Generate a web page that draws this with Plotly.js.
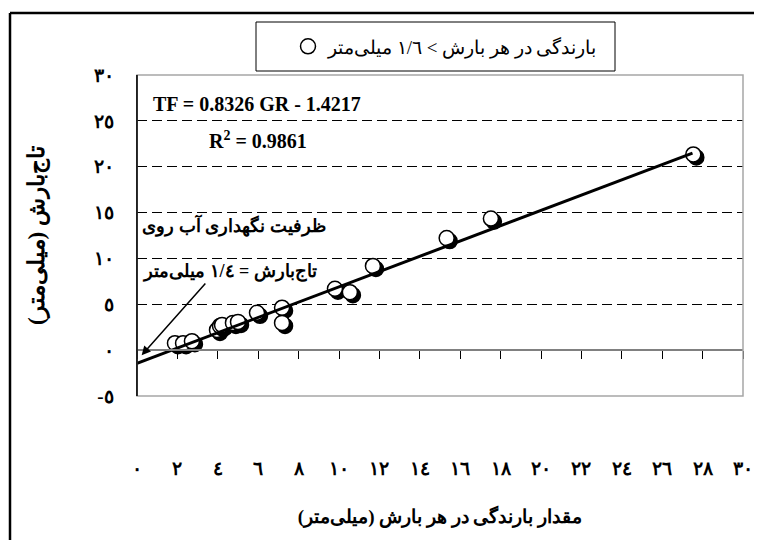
<!DOCTYPE html>
<html><head><meta charset="utf-8">
<script src="https://cdn.plot.ly/plotly-3.0.1.min.js"></script>
<style>body{margin:0;background:#fff}#chart{width:757px;height:540px}</style>
</head><body><div id="chart"></div>
<script>
// ---- data ----
const rainfall    = [1.88, 2.28, 2.72, 3.96, 4.11, 4.21, 4.75, 5.00, 5.94, 7.18, 7.18, 9.80, 10.54, 11.68, 15.33, 17.52, 27.54];
const throughfall = [0.77, 0.77, 0.99, 2.21, 2.65, 2.76, 2.98, 3.09, 4.08, 4.64, 2.98, 6.70, 6.33, 9.19, 12.22, 14.35, 21.34];
const trendX = [0, 27.5];
const trendY = [-1.42, 21.48];
const xTickVals = [0, 2, 4, 6, 8, 10, 12, 14, 16, 18, 20, 22, 24, 26, 28, 30];
const xTickText = ['٠','٢','٤','٦','٨','١٠','١٢','١٤','١٦','١٨','٢٠','٢٢','٢٤','٢٦','٢٨','٣٠'];
const yTickVals = [-5, 0, 5, 10, 15, 20, 25, 30];
const yTickText = ['-٥','٠','٥','١٠','١٥','٢٠','٢٥','٣٠'];
const legendName = 'بارندگی در هر بارش > ١/٦ میلی‌متر';
const xTitle = 'مقدار بارندگی در هر بارش (میلی‌متر)';
const yTitle = 'تاج‌بارش (میلی‌متر)';
const eqText = 'TF = 0.8326 GR - 1.4217';
const r2Text = 'R<sup>2</sup> = 0.9861';
const note1 = 'ظرفیت نگهداری آب روی';
const note2 = 'تاج‌بارش = ١/٤ میلی‌متر';
const arrowHead = [0.23, -0.55];
const arrowTail = [3.45, 7.43];

// ---- geometry ----
const W = 757, H = 540, mL = 137, mR = 14, mT = 75, mB = 85;
const pw = W - mL - mR, ph = H - mT - mB;
const yDomBottom = 0.155;
const yRange = [-5, 30];
const fx = px => (px - mL) / pw;
const fy = py => (H - mB - py) / ph;
const zeroPos = yDomBottom + (1 - yDomBottom) * (0 - yRange[0]) / (yRange[1] - yRange[0]);

const FONT = 'Liberation Serif, Times New Roman, serif';

const data = [
  {
    x: rainfall, y: throughfall, type: 'scatter', mode: 'markers',
    name: legendName, xaxis: 'x', yaxis: 'y',
    marker: {symbol: 'circle', size: 15, color: '#ffffff', line: {color: '#000000', width: 1.5}},
    showlegend: true, cliponaxis: false
  },
  {
    x: trendX, y: trendY, type: 'scatter', mode: 'lines',
    xaxis: 'x2', yaxis: 'y', showlegend: false,
    line: {color: '#000000', width: 3}
  }
];

const layout = {
  width: W, height: H,
  margin: {l: mL, r: mR, t: mT, b: mB, pad: 0},
  paper_bgcolor: '#ffffff', plot_bgcolor: '#ffffff',
  font: {family: FONT, color: '#000000', size: 16},
  showlegend: true,
  legend: {
    x: fx(288), xanchor: 'left', y: fy(46.5), yanchor: 'middle',
    bgcolor: 'rgba(0,0,0,0)', borderwidth: 0,
    font: {family: FONT, size: 19, color: '#000'}
  },
  xaxis: {
    range: [0, 30], anchor: 'free', position: zeroPos, side: 'bottom',
    showline: true, linecolor: '#808080', linewidth: 2,
    ticks: 'outside', ticklen: 8, tickwidth: 1, tickcolor: '#000',
    tick0: 0, dtick: 2, showticklabels: false,
    showgrid: false, zeroline: false, fixedrange: true
  },
  xaxis2: {
    overlaying: 'x', range: [0, 30], anchor: 'free', position: 0, side: 'bottom',
    showline: false, ticks: '', showgrid: false, zeroline: false,
    tickmode: 'array', tickvals: xTickVals, ticktext: xTickText,
    tickfont: {family: FONT, size: 19, weight: 'bold'},
    title: {text: xTitle, font: {family: FONT, size: 19, weight: 'bold'}, standoff: 31}
  },
  yaxis: {
    range: yRange, domain: [yDomBottom, 1],
    showline: true, linecolor: '#000', linewidth: 1.5,
    ticks: '', tickmode: 'array', tickvals: yTickVals, ticktext: yTickText,
    tickfont: {family: FONT, size: 19, weight: 'bold'}, ticklabelstandoff: 18,
    showgrid: true, gridcolor: '#000', gridwidth: 1, griddash: '10px,5px',
    zeroline: false,
    title: {text: yTitle, font: {family: FONT, size: 23, weight: 'bold'}, standoff: 42}
  },
  shapes: [
    {type: 'rect', xref: 'paper', yref: 'paper', x0: 0, x1: 1, y0: yDomBottom, y1: 1,
     line: {color: '#a6a6a6', width: 1.5}, fillcolor: 'rgba(0,0,0,0)', layer: 'above'},
    {type: 'line', xref: 'paper', yref: 'paper', x0: 0, x1: 0, y0: yDomBottom, y1: 1,
     line: {color: '#000', width: 1.5}, layer: 'above'},
    {type: 'line', xref: 'paper', yref: 'paper', x0: fx(10), x1: fx(754), y0: fy(13), y1: fy(13),
     line: {color: '#000', width: 2.5}},
    {type: 'line', xref: 'paper', yref: 'paper', x0: fx(10), x1: fx(10), y0: fy(13), y1: fy(541),
     line: {color: '#000', width: 2.5}},
    {type: 'rect', xref: 'paper', yref: 'paper', x0: fx(256), x1: fx(615), y0: fy(71), y1: fy(22),
     line: {color: '#000', width: 1}, fillcolor: '#ffffff'}
  ],
  annotations: [
    {text: eqText, xref: 'paper', yref: 'paper', x: fx(151), y: fy(104), xanchor: 'left', yanchor: 'middle',
     showarrow: false, font: {family: FONT, size: 20, weight: 'bold'}},
    {text: r2Text, xref: 'paper', yref: 'paper', x: fx(207), y: fy(140), xanchor: 'left', yanchor: 'middle',
     showarrow: false, font: {family: FONT, size: 20, weight: 'bold'}},
    {text: note1, xref: 'paper', yref: 'paper', x: fx(328), y: fy(225), xanchor: 'right', yanchor: 'middle',
     showarrow: false, font: {family: FONT, size: 18, weight: 'bold'}},
    {text: note2, xref: 'paper', yref: 'paper', x: fx(319), y: fy(271), xanchor: 'right', yanchor: 'middle',
     showarrow: false, font: {family: FONT, size: 18, weight: 'bold'}},
    {text: '', xref: 'x', yref: 'y', x: arrowHead[0], y: arrowHead[1],
     axref: 'x', ayref: 'y', ax: arrowTail[0], ay: arrowTail[1],
     showarrow: true, arrowhead: 2, arrowsize: 1.2, arrowwidth: 1.5, arrowcolor: '#000'}
  ]
};

Plotly.newPlot('chart', data, layout, {staticPlot: true, displayModeBar: false}).then(gd => {
  const NS = 'http://www.w3.org/2000/svg';
  const svg = gd.querySelector('.main-svg');
  let defs = svg.querySelector('defs');
  if (!defs) { defs = document.createElementNS(NS, 'defs'); svg.insertBefore(defs, svg.firstChild); }
  const f = document.createElementNS(NS, 'filter');
  f.setAttribute('id', 'ptShadow');
  f.setAttribute('x', '-50%'); f.setAttribute('y', '-50%');
  f.setAttribute('width', '220%'); f.setAttribute('height', '220%');
  const off = document.createElementNS(NS, 'feOffset');
  off.setAttribute('in', 'SourceAlpha'); off.setAttribute('dx', '3'); off.setAttribute('dy', '3');
  off.setAttribute('result', 'off');
  const merge = document.createElementNS(NS, 'feMerge');
  const n1 = document.createElementNS(NS, 'feMergeNode'); n1.setAttribute('in', 'off');
  const n2 = document.createElementNS(NS, 'feMergeNode'); n2.setAttribute('in', 'SourceGraphic');
  merge.appendChild(n1); merge.appendChild(n2);
  f.appendChild(off); f.appendChild(merge);
  defs.appendChild(f);
  gd.querySelectorAll('.subplot.xy .scatterlayer path.point').forEach(p => p.setAttribute('filter', 'url(#ptShadow)'));
});
</script>
</body></html>
